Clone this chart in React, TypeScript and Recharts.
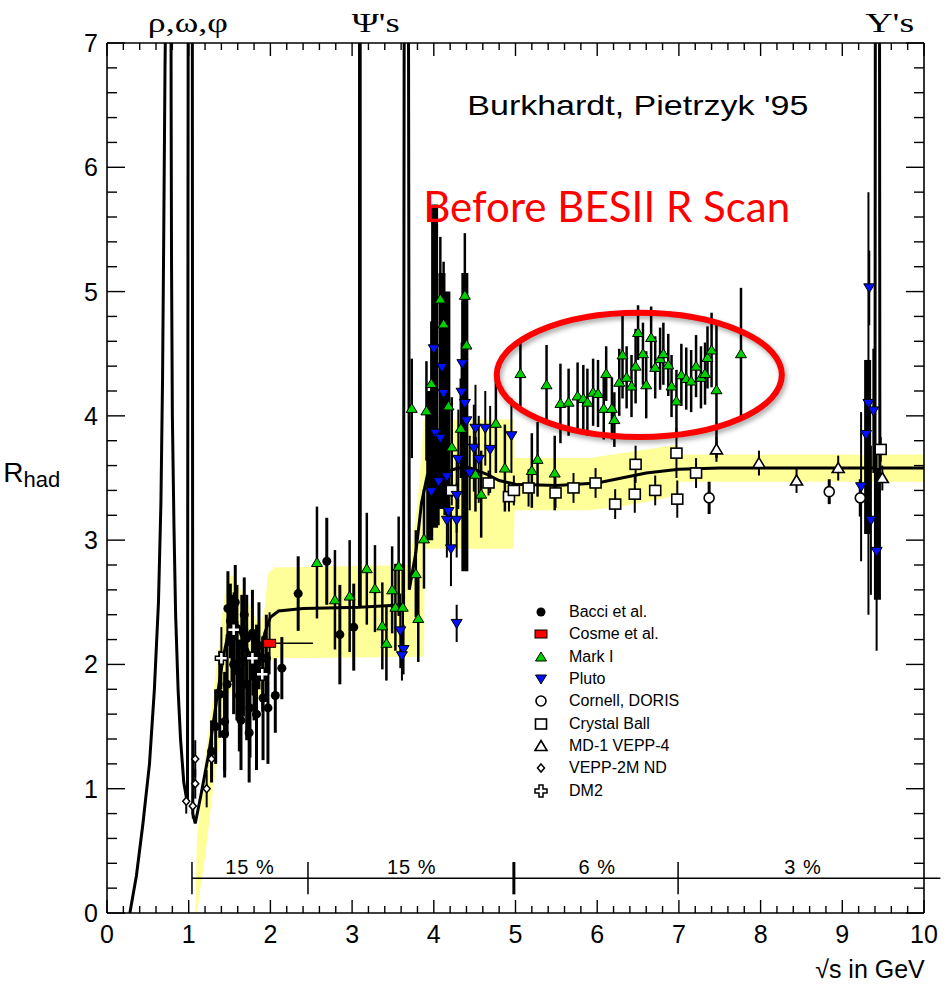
import React from "react";
import {
  ComposedChart,
  XAxis,
  YAxis,
  Line,
  Area,
  Scatter,
  ErrorBar,
  ReferenceLine,
  ReferenceDot,
  ReferenceArea,
  Legend,
} from "recharts";

const FONT = "'Liberation Sans', Arial, Helvetica, sans-serif";
const SERIF = "'Liberation Serif', 'DejaVu Serif', serif";

// R(s) parametrisation, [sqrt(s), R]; resonance peaks run off the top
const curve: [number, number][] = [
  [0.28, 0], [0.36, 0.3], [0.44, 0.72], [0.52, 1.2], [0.58, 1.8], [0.63, 2.5],
  [0.66, 3.3], [0.68, 4.3], [0.695, 5.5], [0.71, 6.8], [0.74, 8.5], [0.765, 9],
  [0.775, 12], [0.785, 6.5], [0.79, 5.2], [0.8, 4.0], [0.82, 3.1], [0.84, 2.4],
  [0.87, 1.8], [0.9, 1.4], [0.94, 1.05], [0.985, 0.88], [1.0, 12], [1.04, 12],
  [1.05, 0.8], [1.08, 0.72], [1.15, 0.95], [1.25, 1.3], [1.35, 1.75], [1.42, 2.05],
  [1.5, 2.3], [1.6, 2.3], [1.7, 2.15], [1.8, 2.0], [1.87, 2.0], [1.93, 2.25],
  [2.0, 2.38], [2.1, 2.43], [2.4, 2.45], [3.09, 2.46], [3.092, 12], [3.098, 12],
  [3.1, 2.46], [3.63, 2.48], [3.645, 12], [3.68, 12], [3.7, 2.6], [3.78, 2.9],
  [3.85, 3.3], [3.92, 3.52], [4.0, 3.58], [4.1, 3.57], [4.2, 3.56], [4.3, 3.58],
  [4.4, 3.59], [4.5, 3.57], [4.65, 3.53], [4.8, 3.48], [5.0, 3.45], [5.5, 3.44],
  [6.0, 3.46], [6.3, 3.5], [6.6, 3.54], [7.0, 3.57], [7.5, 3.58], [9.4, 3.58],
  [9.41, 12], [9.45, 12], [9.46, 3.58], [10, 3.58],
];

// systematic band, [sqrt(s), low, high]
const band: [number, number, number][] = [
  [1.08, 0, 0], [1.1, 0, 0.6], [1.2, 0.45, 1.25], [1.3, 1.0, 1.75], [1.4, 1.45, 2.35],
  [1.47, 1.7, 2.7], [1.55, 1.85, 2.72], [1.62, 1.9, 2.62], [1.71, 1.8, 2.52],
  [1.87, 1.7, 2.3], [1.93, 1.85, 2.45], [1.97, 2.0, 2.73], [2.05, 2.05, 2.78],
  [3.7, 2.06, 2.8], [3.8, 2.06, 3.3], [3.88, 2.06, 3.97], [3.89, 2.93, 3.97],
  [4.98, 2.93, 3.97], [4.99, 3.24, 3.66], [5.9, 3.24, 3.66], [6.3, 3.27, 3.7],
  [6.7, 3.32, 3.74], [6.99, 3.36, 3.77], [7.0, 3.47, 3.69], [10, 3.47, 3.69],
];

// measurements, [sqrt(s), R, error]
const bacci: [number, number, number][] = [
  [1.28, 1.3, 0.25], [1.33, 1.5, 0.3], [1.38, 1.76, 0.35], [1.44, 1.54, 0.4],
  [1.44, 1.44, 0.35], [1.47, 1.84, 0.4], [1.48, 2.45, 0.3], [1.51, 2.35, 0.3],
  [1.53, 2.21, 0.35], [1.55, 2.0, 0.4], [1.57, 2.5, 0.3], [1.59, 2.29, 0.35],
  [1.59, 1.95, 0.4], [1.62, 1.75, 0.45], [1.64, 1.55, 0.4], [1.65, 2.16, 0.4],
  [1.67, 2.03, 0.45], [1.68, 2.4, 0.3], [1.71, 2.21, 0.35], [1.71, 1.84, 0.45],
  [1.74, 1.45, 0.4], [1.75, 1.65, 0.4], [1.78, 2.25, 0.35], [1.8, 1.9, 0.35],
  [1.83, 1.6, 0.45], [1.83, 1.97, 0.35], [1.86, 2.15, 0.35], [1.91, 1.73, 0.5],
  [1.95, 2.05, 0.35], [1.97, 1.65, 0.45], [2.06, 1.75, 0.3], [2.14, 1.97, 0.25],
  [2.34, 2.57, 0.3], [2.69, 2.83, 0.35], [2.85, 2.24, 0.4], [3.02, 2.3, 0.35],
];
const cosme: [number, number, number][] = [[1.99, 2.17, 0.25]];
const cosmeSpan: [number, number][] = [[0.02, 0.53]];
const markI: [number, number, number][] = [
  [2.57, 2.82, 0.45], [2.79, 2.52, 0.4], [2.97, 2.55, 0.45], [3.18, 2.77, 0.45],
  [3.28, 2.61, 0.35], [3.49, 2.6, 0.35], [3.37, 2.31, 0.35], [3.42, 2.17, 0.3],
  [3.53, 2.46, 0.35], [3.62, 2.46, 0.35], [3.57, 2.79, 0.4], [3.78, 2.73, 0.35],
  [3.81, 2.37, 0.35], [3.88, 3.01, 0.4], [3.73, 4.06, 0.4], [4.08, 4.94, 0.5],
  [4.12, 4.74, 0.5], [3.97, 4.26, 0.5], [4.4, 4.57, 0.5], [4.38, 4.97, 0.5],
  [3.91, 4.04, 0.4], [4.18, 4.08, 0.4], [4.33, 3.9, 0.4], [4.22, 3.75, 0.4],
  [4.76, 3.94, 0.4], [4.87, 3.58, 0.35], [4.58, 3.37, 0.35], [4.51, 3.53, 0.3],
  [5.06, 4.34, 0.27], [5.38, 4.25, 0.32], [5.55, 4.1, 0.32], [5.65, 4.11, 0.27],
  [5.76, 4.16, 0.27], [5.83, 4.14, 0.27], [5.88, 4.11, 0.27], [5.95, 4.19, 0.27],
  [6.01, 4.18, 0.27], [6.08, 4.06, 0.25], [6.11, 4.34, 0.22], [6.18, 4.06, 0.25],
  [6.21, 3.97, 0.22], [6.27, 4.27, 0.27], [6.31, 4.49, 0.35], [6.36, 4.31, 0.25],
  [6.42, 4.24, 0.25], [6.47, 4.4, 0.3], [6.5, 4.67, 0.22], [6.56, 4.5, 0.25],
  [6.6, 4.25, 0.27], [6.66, 4.63, 0.25], [6.71, 4.39, 0.25], [6.77, 4.46, 0.25],
  [6.81, 4.5, 0.25], [6.87, 4.41, 0.25], [6.91, 4.24, 0.25], [6.97, 4.12, 0.25],
  [7.03, 4.33, 0.25], [7.09, 4.3, 0.25], [7.15, 4.28, 0.25], [7.21, 4.4, 0.25],
  [7.27, 4.31, 0.25], [7.32, 4.34, 0.25], [7.35, 4.47, 0.25], [7.4, 4.53, 0.3],
  [7.46, 4.21, 0.55], [7.76, 4.5, 0.53], [5.27, 3.65, 0.3], [5.48, 3.54, 0.3],
  [5.2, 3.56, 0.3],
];
const pluto: [number, number, number][] = [
  [4.0, 4.54, 0.5], [4.1, 4.39, 0.5], [4.12, 4.18, 0.4], [4.35, 4.42, 0.5],
  [4.34, 4.19, 0.4], [4.38, 4.1, 0.4], [4.4, 3.96, 0.4], [4.51, 3.9, 0.35],
  [4.63, 3.9, 0.3], [4.95, 3.84, 0.3], [4.02, 3.86, 0.4], [4.08, 3.82, 0.4],
  [4.49, 3.74, 0.35], [4.3, 3.65, 0.4], [4.55, 3.65, 0.35], [4.69, 3.73, 0.35],
  [4.16, 3.51, 0.35], [4.06, 3.47, 0.35], [3.97, 3.39, 0.3], [4.28, 3.36, 0.3],
  [4.18, 3.23, 0.3], [4.16, 3.16, 0.3], [4.28, 3.16, 0.3], [4.21, 2.93, 0.3],
  [4.44, 3.54, 0.3], [4.28, 2.33, 0.15], [3.59, 2.27, 0.3], [3.63, 2.12, 0.2],
  [3.61, 2.07, 0.2], [9.33, 5.03, 0.3], [9.32, 4.1, 1.7], [9.38, 4.04, 0.5],
  [9.29, 3.85, 0.6], [9.23, 3.43, 0.6], [9.35, 3.16, 0.6], [9.42, 2.91, 0.8],
];
const cornell: [number, number, number][] = [
  [7.37, 3.34, 0.13], [8.84, 3.39, 0.1], [9.22, 3.34, 0.15],
];
const crystalBall: [number, number, number][] = [
  [4.22, 3.4, 0.12], [4.67, 3.46, 0.1], [4.92, 3.35, 0.12], [4.98, 3.4, 0.12],
  [5.16, 3.42, 0.15], [5.49, 3.38, 0.12], [5.71, 3.42, 0.12], [5.98, 3.46, 0.12],
  [6.22, 3.29, 0.12], [6.47, 3.61, 0.15], [6.46, 3.37, 0.15], [6.71, 3.4, 0.12],
  [6.97, 3.7, 0.2], [6.98, 3.33, 0.15], [7.21, 3.54, 0.12], [9.47, 3.73, 0.1],
];
const md1: [number, number, number][] = [
  [7.46, 3.73, 0.1], [7.98, 3.62, 0.1], [8.44, 3.48, 0.1], [8.95, 3.58, 0.1],
  [9.49, 3.5, 0.1],
];
const vepp2m: [number, number, number][] = [
  [0.97, 0.9, 0.1], [1.05, 0.86, 0.1], [1.08, 1.04, 0.12], [1.08, 1.24, 0.15],
  [1.22, 1.0, 0.15], [1.28, 1.24, 0.15],
];
const dm2: [number, number, number][] = [
  [1.4, 2.05, 0.25], [1.55, 2.28, 0.3], [1.78, 2.05, 0.3], [1.9, 1.92, 0.3],
];
// overlapping measurements in the charm and upsilon regions, drawn as heavy bars
const heavyBars: [number, number, number][] = [
  [3.95, 3.6, 0.6], [4.01, 4.4, 1.3], [4.1, 4.2, 0.95], [4.16, 4.1, 0.9],
  [4.38, 3.95, 1.2], [9.31, 3.75, 0.7], [9.43, 3.05, 0.53],
];

const xMajor = [0, 1, 2, 3, 4, 5, 6, 7, 8, 9, 10];
const yMajor = [0, 1, 2, 3, 4, 5, 6, 7];
const xTicks: number[] = [];
for (let i = 0; i <= 50; i++) xTicks.push(i / 5);
const yTicks: number[] = [];
for (let i = 0; i <= 35; i++) yTicks.push(i / 5);

// normalisation error zones
const zoneEdges = [1.04, 2.46, 4.98, 6.99];
const zoneLabels = ["15 %", "15 %", "6 %", "3 %"];
const zoneMids = [1.75, 3.73, 6.0, 8.52];

const pts = (rows: [number, number, number][]) =>
  rows.map(([x, y, e]) => ({ x, y, e }));

const isMajor = (v: number) => Math.abs(v - Math.round(v)) < 1e-6;
const fmt = (v: number) => String(Math.round(v));

function BottomTick(p: any) {
  const v = p.payload.value;
  const major = isMajor(v);
  return (
    <g>
      <line x1={p.x} x2={p.x} y1={p.y} y2={p.y - (major ? 13 : 7)} stroke="#000" strokeWidth={1.4} />
      {major && xMajor.includes(Math.round(v)) && (
        <text x={p.x} y={p.y + 30} textAnchor="middle" fontSize={25} fontFamily={FONT} fill="#000">
          {fmt(v)}
        </text>
      )}
    </g>
  );
}

function TopTick(p: any) {
  const major = isMajor(p.payload.value);
  return <line x1={p.x} x2={p.x} y1={p.y} y2={p.y + (major ? 13 : 7)} stroke="#000" strokeWidth={1.4} />;
}

function LeftTick(p: any) {
  const v = p.payload.value;
  const major = isMajor(v);
  return (
    <g>
      <line x1={p.x} x2={p.x + (major ? 18 : 10)} y1={p.y} y2={p.y} stroke="#000" strokeWidth={1.4} />
      {major && yMajor.includes(Math.round(v)) && (
        <text x={p.x - 9} y={p.y + 9} textAnchor="end" fontSize={25} fontFamily={FONT} fill="#000">
          {fmt(v)}
        </text>
      )}
    </g>
  );
}

function RightTick(p: any) {
  const major = isMajor(p.payload.value);
  return <line x1={p.x} x2={p.x - (major ? 18 : 10)} y1={p.y} y2={p.y} stroke="#000" strokeWidth={1.4} />;
}

// marker shapes
const FilledDot = ({ cx, cy }: any) => <circle cx={cx} cy={cy} r={4.5} fill="#000" />;
const RedBox = ({ cx, cy }: any) => (
  <rect x={cx - 6} y={cy - 4} width={12} height={8} fill="#ff0000" stroke="#000" strokeWidth={1} />
);
const GreenUp = ({ cx, cy }: any) => (
  <path d={`M${cx},${cy - 5}L${cx + 5.5},${cy + 4}L${cx - 5.5},${cy + 4}Z`} fill="#00d000" stroke="#000" strokeWidth={1} />
);
const BlueDown = ({ cx, cy }: any) => (
  <path d={`M${cx},${cy + 5}L${cx + 5.5},${cy - 4}L${cx - 5.5},${cy - 4}Z`} fill="#0010ff" stroke="#000" strokeWidth={1} />
);
const OpenDot = ({ cx, cy }: any) => (
  <circle cx={cx} cy={cy} r={5} fill="#fff" stroke="#000" strokeWidth={1.6} />
);
const OpenBox = ({ cx, cy }: any) => (
  <rect x={cx - 5.5} y={cy - 5} width={11} height={10} fill="#fff" stroke="#000" strokeWidth={1.6} />
);
const OpenUp = ({ cx, cy }: any) => (
  <path d={`M${cx},${cy - 5.5}L${cx + 6},${cy + 4.5}L${cx - 6},${cy + 4.5}Z`} fill="#fff" stroke="#000" strokeWidth={1.6} />
);
const SmallDiamond = ({ cx, cy }: any) => (
  <path d={`M${cx},${cy - 4}L${cx + 3.5},${cy}L${cx},${cy + 4}L${cx - 3.5},${cy}Z`} fill="#fff" stroke="#000" strokeWidth={1.5} />
);
const OpenCross = ({ cx, cy }: any) => (
  <path
    d={`M${cx - 2},${cy - 6}h4v4h4v4h-4v4h-4v-4h-4v-4h4Z`}
    fill="#fff"
    stroke="#000"
    strokeWidth={1.5}
  />
);
const NoMark = () => <g />;

const legendRows = [
  { name: "Bacci et al.", Mark: FilledDot },
  { name: "Cosme et al.", Mark: RedBox },
  { name: "Mark I", Mark: GreenUp },
  { name: "Pluto", Mark: BlueDown },
  { name: "Cornell, DORIS", Mark: OpenDot },
  { name: "Crystal Ball", Mark: OpenBox },
  { name: "MD-1 VEPP-4", Mark: OpenUp },
  { name: "VEPP-2M ND", Mark: SmallDiamond },
  { name: "DM2", Mark: OpenCross },
];

function LegendBox() {
  return (
    <div style={{ fontFamily: FONT, fontSize: 16, color: "#000", lineHeight: 1 }}>
      {legendRows.map(({ name, Mark }) => (
        <div key={name} style={{ display: "flex", alignItems: "center", height: 22.3 }}>
          <svg width={20} height={16} style={{ overflow: "visible" }}>
            <Mark cx={10} cy={8} />
          </svg>
          <span style={{ marginLeft: 18, whiteSpace: "nowrap" }}>{name}</span>
        </div>
      ))}
    </div>
  );
}

const textShape =
  (text: string, attrs: React.SVGProps<SVGTextElement>) =>
  (p: any) =>
    (
      <text x={p.cx} y={p.cy} {...attrs}>
        {text}
      </text>
    );

function RhadLabel(p: any) {
  return (
    <text x={p.cx} y={p.cy} fontFamily={FONT} fill="#000">
      <tspan fontSize={28}>R</tspan>
      <tspan fontSize={22} dy={5}>had</tspan>
    </text>
  );
}

function Ring(p: any) {
  const cx = p.x + p.width / 2;
  const cy = p.y + p.height / 2;
  return (
    <g>
      <defs>
        <filter id="ringBlur" x="-20%" y="-20%" width="140%" height="140%">
          <feGaussianBlur stdDeviation={2.5} />
        </filter>
      </defs>
      <ellipse cx={cx + 2} cy={cy + 3} rx={p.width / 2} ry={p.height / 2} fill="none"
        stroke="rgba(0,0,0,0.35)" strokeWidth={6} filter="url(#ringBlur)" />
      <ellipse cx={cx} cy={cy} rx={p.width / 2} ry={p.height / 2} fill="none" stroke="#ff0000" strokeWidth={6} />
    </g>
  );
}

const errStroke = { stroke: "#000", width: 0 };
const topLabel = { textAnchor: "middle" as const, fontSize: 28, fontFamily: SERIF, fill: "#000", lengthAdjust: "spacingAndGlyphs" as const };

export default function App() {
  const curveData = curve.map(([x, y]) => ({ x, y }));
  const bandData = band.map(([x, lo, hi]) => ({ x, band: [lo, hi] }));
  const cosmeData = cosme.map(([x, y, e], i) => ({ x, y, e, xe: cosmeSpan[i] }));

  return (
    <div style={{ position: "absolute", left: 0, top: 0, width: 947, height: 990, background: "#fff" }}>
      <ComposedChart width={947} height={990} margin={{ top: 42, right: 22, bottom: 76, left: 0 }}>
        <XAxis
          xAxisId={0}
          dataKey="x"
          type="number"
          domain={[0, 10]}
          allowDataOverflow
          ticks={xTicks}
          interval={0}
          tickSize={0}
          tickMargin={0}
          tickLine={false}
          tick={BottomTick}
          height={1}
          axisLine={{ stroke: "#000", strokeWidth: 1.6 }}
        />
        <XAxis
          xAxisId="top"
          orientation="top"
          dataKey="x"
          type="number"
          domain={[0, 10]}
          allowDataOverflow
          ticks={xTicks}
          interval={0}
          tickSize={0}
          tickMargin={0}
          tickLine={false}
          tick={TopTick}
          height={1}
          axisLine={{ stroke: "#000", strokeWidth: 1.6 }}
        />
        <YAxis
          yAxisId={0}
          type="number"
          domain={[0, 7]}
          allowDataOverflow
          ticks={yTicks}
          interval={0}
          tickSize={0}
          tickMargin={0}
          tickLine={false}
          tick={LeftTick}
          width={107}
          axisLine={{ stroke: "#000", strokeWidth: 1.6 }}
        />
        <YAxis
          yAxisId="right"
          orientation="right"
          type="number"
          domain={[0, 7]}
          allowDataOverflow
          ticks={yTicks}
          interval={0}
          tickSize={0}
          tickMargin={0}
          tickLine={false}
          tick={RightTick}
          width={1}
          axisLine={{ stroke: "#000", strokeWidth: 1.6 }}
        />

        <Area
          data={bandData}
          dataKey="band"
          type="linear"
          stroke="none"
          fill="#ffff99"
          fillOpacity={1}
          isAnimationActive={false}
          dot={false}
          activeDot={false}
        />
        <Line
          data={curveData}
          dataKey="y"
          type="linear"
          stroke="#000"
          strokeWidth={3}
          dot={false}
          activeDot={false}
          isAnimationActive={false}
        />

        <Scatter data={pts(heavyBars)} dataKey="y" shape={NoMark} isAnimationActive={false}>
          <ErrorBar dataKey="e" direction="y" {...errStroke} strokeWidth={7} />
        </Scatter>
        <Scatter data={pts(vepp2m)} dataKey="y" shape={SmallDiamond} isAnimationActive={false}>
          <ErrorBar dataKey="e" direction="y" {...errStroke} strokeWidth={2} />
        </Scatter>
        <Scatter data={pts(bacci)} dataKey="y" shape={FilledDot} isAnimationActive={false}>
          <ErrorBar dataKey="e" direction="y" {...errStroke} strokeWidth={3} />
        </Scatter>
        <Scatter data={pts(dm2)} dataKey="y" shape={OpenCross} isAnimationActive={false}>
          <ErrorBar dataKey="e" direction="y" {...errStroke} strokeWidth={2} />
        </Scatter>
        <Scatter data={cosmeData} dataKey="y" shape={RedBox} isAnimationActive={false}>
          <ErrorBar dataKey="e" direction="y" {...errStroke} strokeWidth={2} />
          <ErrorBar dataKey="xe" direction="x" {...errStroke} strokeWidth={1.5} />
        </Scatter>
        <Scatter data={pts(crystalBall)} dataKey="y" shape={OpenBox} isAnimationActive={false}>
          <ErrorBar dataKey="e" direction="y" {...errStroke} strokeWidth={2} />
        </Scatter>
        <Scatter data={pts(cornell)} dataKey="y" shape={OpenDot} isAnimationActive={false}>
          <ErrorBar dataKey="e" direction="y" {...errStroke} strokeWidth={3} />
        </Scatter>
        <Scatter data={pts(md1)} dataKey="y" shape={OpenUp} isAnimationActive={false}>
          <ErrorBar dataKey="e" direction="y" {...errStroke} strokeWidth={2} />
        </Scatter>
        <Scatter data={pts(pluto)} dataKey="y" shape={BlueDown} isAnimationActive={false}>
          <ErrorBar dataKey="e" direction="y" {...errStroke} strokeWidth={2} />
        </Scatter>
        <Scatter data={pts(markI)} dataKey="y" shape={GreenUp} isAnimationActive={false}>
          <ErrorBar dataKey="e" direction="y" {...errStroke} strokeWidth={2.5} />
        </Scatter>

        {/* normalisation error bar along the bottom */}
        <ReferenceLine
          segment={[{ x: zoneEdges[0], y: 0.28 }, { x: 10.2, y: 0.28 }]}
          stroke="#000"
          strokeWidth={1.5}
          ifOverflow="visible"
        />
        {zoneEdges.map((x, i) => (
          <ReferenceLine
            key={`edge-${i}`}
            segment={[{ x, y: 0.15 }, { x, y: 0.41 }]}
            stroke="#000"
            strokeWidth={x === 4.98 ? 3 : 1.5}
            ifOverflow="visible"
          />
        ))}
        {zoneLabels.map((t, i) => (
          <ReferenceDot
            key={`zone-${i}`}
            x={zoneMids[i]}
            y={0.31}
            ifOverflow="visible"
            shape={textShape(t, { textAnchor: "middle", fontSize: 20, fontFamily: FONT, fill: "#000", letterSpacing: 1 })}
          />
        ))}

        <ReferenceArea
          x1={4.77}
          x2={8.26}
          y1={3.83}
          y2={4.83}
          ifOverflow="visible"
          shape={Ring}
          zIndex={1200}
        />

        <ReferenceDot x={0.99} y={7.09} ifOverflow="visible"
          shape={textShape("ρ,ω,φ", { ...topLabel, textLength: 80 })} />
        <ReferenceDot x={3.29} y={7.09} ifOverflow="visible"
          shape={textShape("Ψ's", { ...topLabel, textLength: 48 })} />
        <ReferenceDot x={9.58} y={7.09} ifOverflow="visible"
          shape={textShape("Υ's", { ...topLabel, textLength: 49 })} />
        <ReferenceDot x={4.41} y={6.42} ifOverflow="visible"
          shape={textShape("Burkhardt, Pietrzyk '95", {
            fontSize: 28, fontFamily: FONT, fill: "#000", textLength: 341, lengthAdjust: "spacingAndGlyphs",
          })} />
        <ReferenceDot x={3.87} y={5.56} ifOverflow="visible"
          shape={textShape("Before BESII R Scan", {
            fontSize: 42, fontFamily: "Lato, 'Open Sans', sans-serif", fill: "#ff0000",
            textLength: 367, lengthAdjust: "spacingAndGlyphs",
          })} />
        <ReferenceDot x={-1.27} y={3.47} ifOverflow="visible" shape={RhadLabel} />
        <ReferenceDot x={10.01} y={-0.52} ifOverflow="visible"
          shape={textShape("√s in GeV", { textAnchor: "end", fontSize: 25, fontFamily: FONT, fill: "#000" })} />

        <Legend
          layout="vertical"
          align="center"
          verticalAlign="middle"
          content={() => <LegendBox />}
          wrapperStyle={{ left: 531, top: 601, width: 200, height: 205 }}
        />
      </ComposedChart>
    </div>
  );
}
